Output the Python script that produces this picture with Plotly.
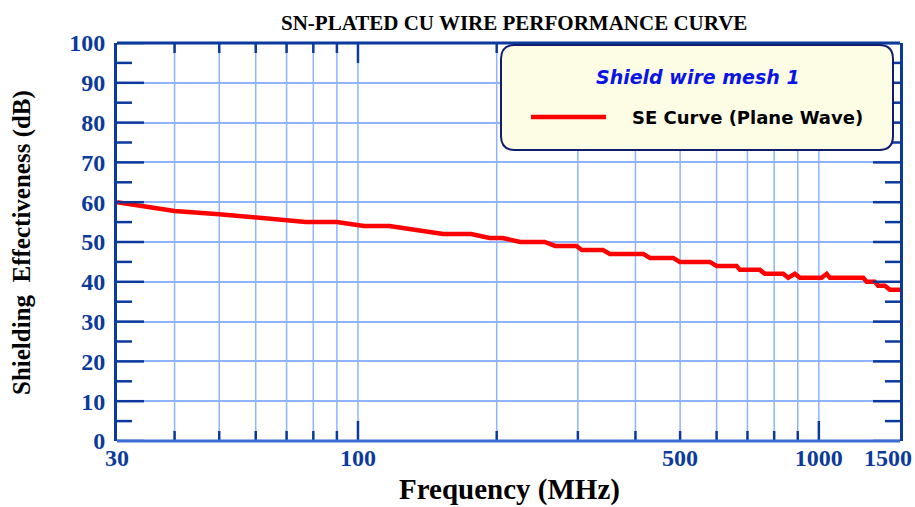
import math
import plotly.graph_objects as go

# ---- data ----
freq_mhz = [30, 40, 50, 60, 70, 77, 90, 103, 117, 153, 176, 193, 206, 225, 254, 268,
            298, 306, 340, 352, 416, 430, 483, 499, 580, 600, 663, 674, 745, 764,
            837, 858, 887, 910, 1014, 1040, 1057, 1248, 1270, 1323, 1345, 1391, 1426, 1500]
se_db = [60, 57.8, 57, 56.2, 55.6, 55, 55, 54, 54, 52, 52, 51, 51, 50, 50, 49,
         49, 48, 48, 47, 47, 46, 46, 45, 45, 44, 44, 43, 43, 42,
         42, 41, 42, 41, 41, 42, 41, 41, 40, 40, 39, 39, 38, 38]

x_tick_labels = [30, 100, 500, 1000]
x_edge_label = 1500
x_grid = [40, 50, 60, 70, 80, 90, 100, 200, 300, 400, 500, 600, 700, 800, 900, 1000]
x_decades = [100, 1000]
y_major = list(range(0, 101, 10))
y_minor = list(range(5, 100, 10))

title_text = "SN-PLATED CU WIRE PERFORMANCE CURVE"
x_title = "Frequency (MHz)"
y_title = "Shielding  Effectiveness (dB)"
legend_title = "Shield wire mesh 1"
series_name = "SE Curve (Plane Wave)"

# ---- styles ----
NAVY = "#0b3a9c"
BOTTOM = "#3a6ed6"
GRID = "#8fb3ff"
RED = "#ff0000"
SERIF = "Liberation Serif, Times New Roman, serif"
SANS = "DejaVu Sans, Arial, sans-serif"

W, H = 915, 507
ML, MR, MT, MB = 117, 15, 43, 66
PW, PH = W - ML - MR, H - MT - MB

fig = go.Figure()
fig.add_trace(go.Scatter(x=freq_mhz, y=se_db, mode="lines", name=series_name,
                         line=dict(color=RED, width=4.5), showlegend=False))

shapes = []
for f in x_grid:
    shapes.append(dict(type="line", xref="x", yref="y domain", x0=f, x1=f,
                       y0=0, y1=1, line=dict(color=GRID, width=1.5), layer="below"))
for f in x_grid:
    L = 20 if f in x_decades else 10
    for base, sgn in ((0, 1), (1, -1)):
        shapes.append(dict(type="line", xref="x", yref="y domain", x0=f, x1=f,
                           y0=base, y1=base + sgn * L / PH, line=dict(color=NAVY, width=2.5)))
for v in y_major + y_minor:
    L = 27 if v in y_major else 15
    for base, sgn in ((0, 1), (1, -1)):
        shapes.append(dict(type="line", xref="x domain", yref="y", x0=base, x1=base + sgn * L / PW,
                           y0=v, y1=v, line=dict(color=NAVY, width=2.5)))
# top and bottom frame lines
shapes.append(dict(type="line", xref="paper", yref="paper", x0=0, x1=1, y0=1, y1=1,
                   line=dict(color=NAVY, width=3)))
shapes.append(dict(type="line", xref="paper", yref="paper", x0=0, x1=1, y0=0, y1=0,
                   line=dict(color=BOTTOM, width=3)))


def px_to_paper(px, py):
    return (px - ML) / PW, (H - MB - py) / PH


bx0, by0, bx1, by1, r = 501, 45, 893, 150, 14


def P(px, py):
    x, y = px_to_paper(px, py)
    return f"{x:.5f},{y:.5f}"


path = (f"M {P(bx0 + r, by0)} L {P(bx1 - r, by0)} Q {P(bx1, by0)} {P(bx1, by0 + r)} "
        f"L {P(bx1, by1 - r)} Q {P(bx1, by1)} {P(bx1 - r, by1)} "
        f"L {P(bx0 + r, by1)} Q {P(bx0, by1)} {P(bx0, by1 - r)} "
        f"L {P(bx0, by0 + r)} Q {P(bx0, by0)} {P(bx0 + r, by0)} Z")
shapes.append(dict(type="path", xref="paper", yref="paper", path=path,
                   fillcolor="#fdfde6", line=dict(color="#101c6e", width=2)))
lx0, ly = px_to_paper(531, 117)
lx1, _ = px_to_paper(606, 117)
shapes.append(dict(type="line", xref="paper", yref="paper", x0=lx0, x1=lx1, y0=ly, y1=ly,
                   line=dict(color=RED, width=4.5)))

annotations = []


def ann(text, px, py, font, xanchor="center", angle=0):
    x, y = px_to_paper(px, py)
    annotations.append(dict(text=text, xref="paper", yref="paper", x=x, y=y,
                            xanchor=xanchor, yanchor="middle", textangle=angle,
                            showarrow=False, font=font))


ann(title_text, 514, 23, dict(family=SERIF, size=21, color="black", weight="bold"))
ann(f"<i>{legend_title}</i>", 698, 77, dict(family=SANS, size=19, color="#0a14e6", weight="bold"))
ann(series_name, 630, 117, dict(family=SANS, size=18, color="black", weight="bold"), xanchor="left")
ann(x_title, 509, 489, dict(family=SERIF, size=29, color="black", weight="bold"))
ann(y_title, 22, 243, dict(family=SERIF, size=25, color="black", weight="bold"), angle=-90)

tickfont = dict(family=SERIF, size=24, color=NAVY, weight="bold")
x_range = [math.log10(30), math.log10(1500)]

# invisible helper trace so the second x axis is drawn
fig.add_trace(go.Scatter(x=[x_edge_label], y=[None], xaxis="x2", mode="lines",
                         showlegend=False, hoverinfo="skip"))

fig.update_layout(
    width=W, height=H, margin=dict(l=ML, r=MR, t=MT, b=MB, autoexpand=False),
    paper_bgcolor="white", plot_bgcolor="white",
    shapes=shapes, annotations=annotations, showlegend=False,
    xaxis=dict(type="log", range=x_range,
               tickmode="array", tickvals=x_tick_labels, ticktext=[str(v) for v in x_tick_labels],
               ticks="", showgrid=False, zeroline=False, ticklabelstandoff=0,
               showline=False, tickfont=tickfont),
    xaxis2=dict(type="log", range=x_range, overlaying="x", side="bottom", anchor="y",
                tickmode="array", tickvals=[x_edge_label], ticktext=[str(x_edge_label)],
                ticks="", showgrid=False, zeroline=False, ticklabelstandoff=0,
                ticklabelshift=-12, ticklabeloverflow="allow",
                showline=False, tickfont=tickfont),
    yaxis=dict(range=[0, 100], tickmode="array", tickvals=y_major,
               ticks="", showgrid=True, gridcolor=GRID, gridwidth=1.5, zeroline=False,
               showline=True, linecolor=NAVY, linewidth=3, mirror=True, ticklabelstandoff=4,
               tickfont=tickfont),
)

fig.write_html("out.html", config={"displayModeBar": False},
               post_script="document.body.style.margin='0';")
